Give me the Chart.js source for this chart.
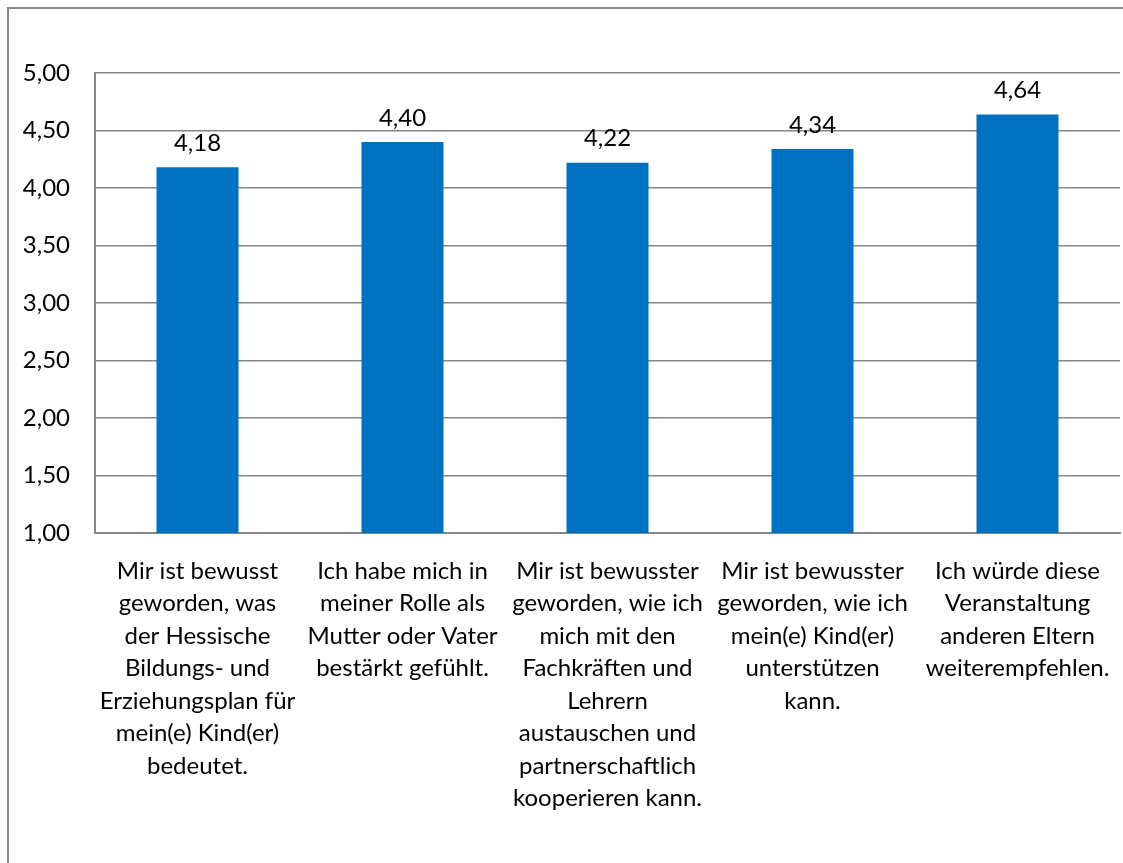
<!DOCTYPE html>
<html>
<head>
<meta charset="utf-8">
<script src="https://cdn.jsdelivr.net/npm/chart.js@4"></script>
<style>
  html, body { margin:0; padding:0; background:#fff; }
  #wrap { position:relative; width:1123px; height:863px; overflow:hidden; }
  #frame { position:absolute; left:7px; top:7px; width:1130px; height:880px; border:2px solid #868686; box-sizing:border-box; }
  canvas { position:absolute; left:0; top:0; }
</style>
</head>
<body>
<div id="wrap">
  <div id="frame"></div>
  <canvas id="chart" width="1123" height="863"></canvas>
</div>
<script>
// ---- 데이터 ----
const categories = [
  ["Mir ist bewusst", "geworden, was", "der Hessische", "Bildungs- und", "Erziehungsplan für", "mein(e) Kind(er)", "bedeutet."],
  ["Ich habe mich in", "meiner Rolle als", "Mutter oder Vater", "bestärkt gefühlt."],
  ["Mir ist bewusster", "geworden, wie ich", "mich mit den", "Fachkräften und", "Lehrern", "austauschen und", "partnerschaftlich", "kooperieren kann."],
  ["Mir ist bewusster", "geworden, wie ich", "mein(e) Kind(er)", "unterstützen", "kann."],
  ["Ich würde diese", "Veranstaltung", "anderen Eltern", "weiterempfehlen."]
];
const values = [4.18, 4.40, 4.22, 4.34, 4.64];
const yMin = 1, yMax = 5, yStep = 0.5;

const FONT = 'Lato, "Noto Sans", sans-serif';
const FS = 24;
const fmt2 = new Intl.NumberFormat('de-DE', {minimumFractionDigits:2, maximumFractionDigits:2});

// 막대 위 값 표시
const valueLabels = {
  id: 'valueLabels',
  afterDatasetsDraw(chart){
    const {ctx} = chart;
    const meta = chart.getDatasetMeta(0);
    ctx.save();
    ctx.font = FS + 'px ' + FONT;
    ctx.fillStyle = '#000';
    ctx.textAlign = 'center';
    ctx.textBaseline = 'middle';
    meta.data.forEach((bar, i) => {
      ctx.fillText(fmt2.format(values[i]), bar.x, bar.y - 24);
    });
    ctx.restore();
  }
};

new Chart(document.getElementById('chart').getContext('2d'), {
  type: 'bar',
  data: {
    labels: categories,
    datasets: [{
      data: values,
      backgroundColor: '#0070C0',
      barPercentage: 0.4,
      categoryPercentage: 1.0
    }]
  },
  options: {
    responsive: false,
    animation: false,
    layout: { padding: { top: 73, right: 3, left: 0, bottom: 0 } },
    plugins: { legend: { display: false }, tooltip: { enabled: false } },
    scales: {
      x: {
        grid: { display: false, drawTicks: false },
        border: { color: '#868686', width: 2 },
        ticks: { color: '#000', font: { family: FONT, size: FS, lineHeight: 1.354 }, padding: 22, maxRotation: 0, autoSkip: false },
        afterFit(s){ s.height = 863 - 533; s.paddingLeft = 0; s.paddingRight = 0; }
      },
      y: {
        min: yMin, max: yMax,
        grid: { color: '#868686', lineWidth: 1.5, drawTicks: false },
        border: { color: '#868686', width: 2 },
        ticks: { stepSize: yStep, color: '#000', font: { family: FONT, size: FS }, padding: 25, callback: v => fmt2.format(v) },
        afterFit(s){ s.width = 95; }
      }
    }
  },
  plugins: [valueLabels]
});
</script>
</body>
</html>
